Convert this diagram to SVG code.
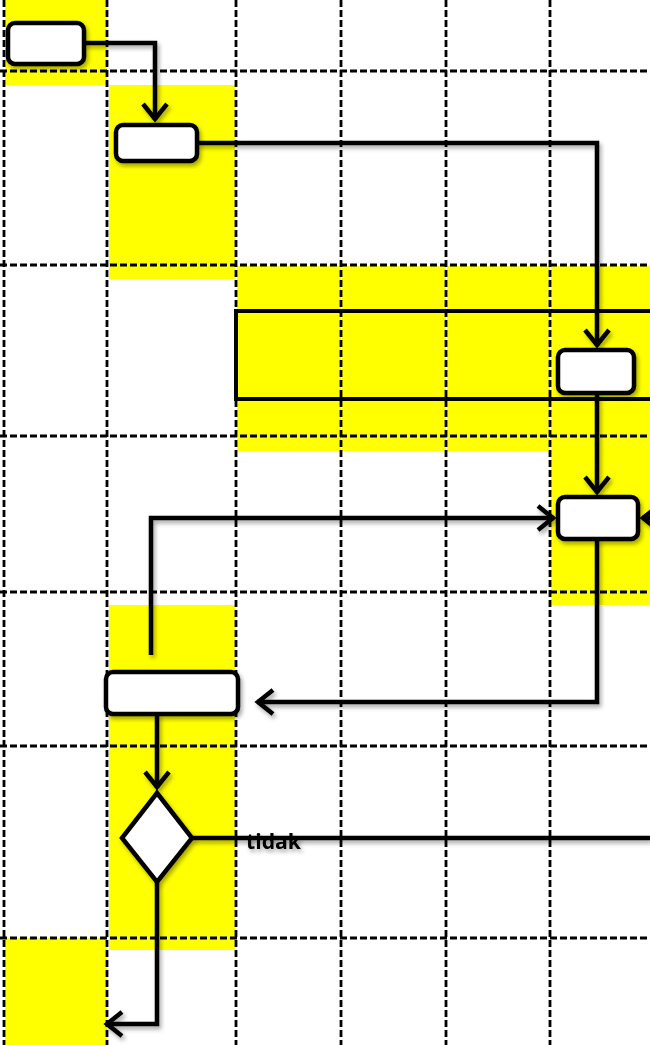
<svg xmlns="http://www.w3.org/2000/svg" width="650" height="1045" viewBox="0 0 650 1045">
  <style>
    .lane { fill: #ffff00; stroke: none; }
    .grid { stroke: #000; stroke-width: 2.8; stroke-dasharray: 7 3; fill: none; }
    .band { stroke: #000; stroke-width: 4; fill: none; }
    .conn { stroke: #000; stroke-width: 4.5; fill: none; stroke-linejoin: miter; }
    .node { fill: #fff; stroke: #000; stroke-width: 4.5; }
    .label { font-family: "Open Sans", "Liberation Sans", Arial, sans-serif; font-weight: bold; font-size: 22px; fill: #000; }
  </style>
  <defs>
    <filter id="shadow" x="-20%" y="-20%" width="140%" height="140%">
      <feDropShadow dx="2" dy="3" stdDeviation="2" flood-color="#000" flood-opacity="0.35"/>
    </filter>
    <marker id="arrow" markerUnits="userSpaceOnUse" markerWidth="30" markerHeight="30" refX="17" refY="12" orient="auto" viewBox="-3 -3 30 30" overflow="visible">
      <path d="M1,0 L16,12 L1,24" fill="none" stroke="#000" stroke-width="4.5" stroke-linejoin="miter"/>
    </marker>
  </defs>

  <g id="lanes">
    <rect class="lane" x="5" y="0" width="102" height="85"/>
    <rect class="lane" x="109" y="85" width="126" height="194"/>
    <rect class="lane" x="237" y="266" width="104" height="185"/>
    <rect class="lane" x="342" y="266" width="104" height="185"/>
    <rect class="lane" x="447" y="266" width="103" height="185"/>
    <rect class="lane" x="551" y="266" width="99" height="339"/>
    <rect class="lane" x="109" y="605" width="126" height="345"/>
    <rect class="lane" x="5" y="938" width="102" height="107"/>
  </g>

  <g id="grid">
    <line class="grid" x1="4" y1="0" x2="4" y2="1045"/>
    <line class="grid" x1="107" y1="0" x2="107" y2="1045"/>
    <line class="grid" x1="236" y1="0" x2="236" y2="1045"/>
    <line class="grid" x1="341" y1="0" x2="341" y2="1045"/>
    <line class="grid" x1="446" y1="0" x2="446" y2="1045"/>
    <line class="grid" x1="550" y1="0" x2="550" y2="1045"/>
    <line class="grid" x1="0" y1="71" x2="650" y2="71"/>
    <line class="grid" x1="0" y1="265" x2="650" y2="265"/>
    <line class="grid" x1="0" y1="436" x2="650" y2="436"/>
    <line class="grid" x1="0" y1="592" x2="650" y2="592"/>
    <line class="grid" x1="0" y1="746" x2="650" y2="746"/>
    <line class="grid" x1="0" y1="938" x2="650" y2="938"/>
  </g>

  <g id="band">
    <path class="band" d="M650,311 L236,311 L236,399 L650,399"/>
  </g>

  <g id="connectors" filter="url(#shadow)">
    <path class="conn" d="M84,43 L155,43 L155,120" marker-end="url(#arrow)"/>
    <path class="conn" d="M197,143 L597,143 L597,346" marker-end="url(#arrow)"/>
    <path class="conn" d="M597,393 L597,493" marker-end="url(#arrow)"/>
    <path class="conn" d="M151,655 L151,518 L554,518" marker-end="url(#arrow)"/>
    <path class="conn" d="M652,518 L642,518" marker-end="url(#arrow)"/>
    <path class="conn" d="M597,539 L597,702 L257,702" marker-end="url(#arrow)"/>
    <path class="conn" d="M157,714 L157,788" marker-end="url(#arrow)"/>
    <path class="conn" d="M192,838 L650,838"/>
    <path class="conn" d="M157,882 L157,1024 L106,1024" marker-end="url(#arrow)"/>
  </g>

  <g id="node1" filter="url(#shadow)">
    <rect class="node" x="8" y="23" width="76" height="41" rx="7"/>
  </g>
  <g id="node2" filter="url(#shadow)">
    <rect class="node" x="116" y="125" width="81" height="36" rx="7"/>
  </g>
  <g id="node3" filter="url(#shadow)">
    <rect class="node" x="558" y="350" width="76" height="43" rx="7"/>
  </g>
  <g id="node4" filter="url(#shadow)">
    <rect class="node" x="558" y="497" width="80" height="42" rx="7"/>
  </g>
  <g id="node5" filter="url(#shadow)">
    <rect class="node" x="106" y="672" width="132" height="42" rx="7"/>
  </g>
  <g id="decision" filter="url(#shadow)">
    <polygon class="node" points="157,793 192,838 157,882 122,838"/>
  </g>
  <g id="label-tidak" filter="url(#shadow)">
    <text class="label" x="246" y="849" textLength="55" lengthAdjust="spacingAndGlyphs">tidak</text>
  </g>
</svg>
